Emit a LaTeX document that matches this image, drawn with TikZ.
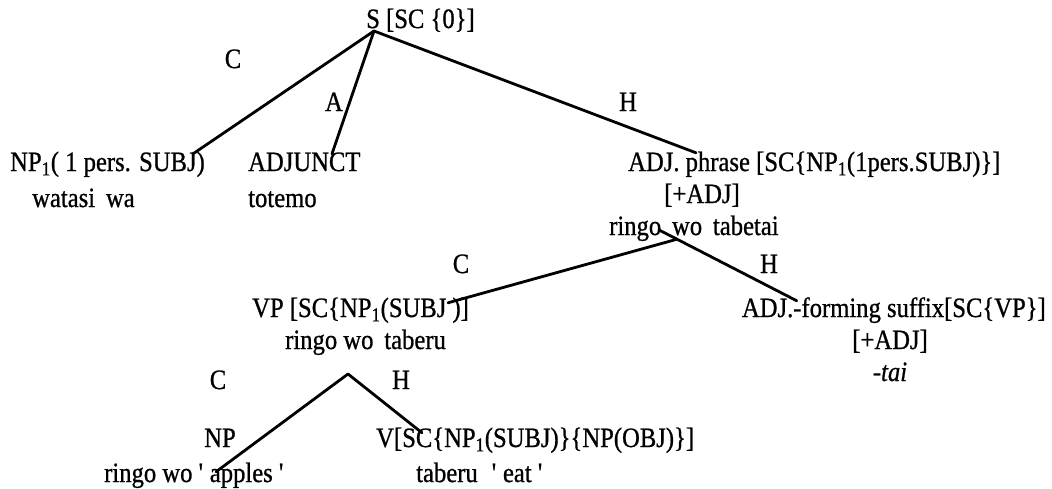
\documentclass[tikz,border=0pt]{standalone}
\usepackage{fontspec}
\setmainfont{Liberation Serif}[FakeStretch=0.88,FakeBold=0.8]
\usetikzlibrary{calc}
\begin{document}
\begin{tikzpicture}[x=1pt,y=-1pt,
  txt/.style={inner sep=0pt, text height=20pt, text depth=6pt, font=\fontsize{28}{33}\selectfont},
  edge/.style={line width=2.8pt, line cap=round}]
\useasboundingbox[fill=white] (0,0) rectangle (1052,488);

% level 0
\node[txt, anchor=west] (s) at (366,21) {S [SC \{0\}]};
\node[txt] (c1) at (233,61) {C};
\node[txt] (a1) at (334,104) {A};
\node[txt] (h1) at (628,104) {H};

% level 1
\node[txt, anchor=west] (np1) at (10,164) {NP\textsubscript{1}( 1 pers. SUBJ)};
\node[txt, anchor=west] (adjunct) at (248,164) {ADJUNCT};
\node[txt, anchor=west] (adjp) at (628,164) {ADJ. phrase [SC\{NP\textsubscript{1}(1pers.SUBJ)\}]};
\node[txt, anchor=west] (watasi) at (32,200) {watasi\, wa};
\node[txt, anchor=west] (totemo) at (248,200) {totemo};
\node[txt] (adj1) at (702,196) {[+ADJ]};
\node[txt, anchor=west] (tabetai) at (609,228) {ringo\, wo\, tabetai};

% level 2
\node[txt] (c2) at (461,266) {C};
\node[txt] (h2) at (769,266) {H};
\node[txt, anchor=west] (vp) at (252,310) {VP [SC\{NP\textsubscript{1}(SUBJ )]};
\node[txt, anchor=east] (suffix) at (1046,310) {ADJ.-forming suffix[SC\{VP\}]};
\node[txt, anchor=west] (taberu) at (285,342) {ringo wo\, taberu};
\node[txt] (adj2) at (890,342) {[+ADJ]};
\node[txt] (tai) at (890,374) {-\textit{tai}};

% level 3
\node[txt] (c3) at (218,382) {C};
\node[txt] (h3) at (401,382) {H};
\node[txt] (np) at (220,440) {NP};
\node[txt, anchor=west] (v) at (376,440) {V[SC\{NP\textsubscript{1}(SUBJ)\}\{NP(OBJ)\}]};
\node[txt, anchor=west] (apples) at (104,475) {ringo wo \textquotesingle\ apples \textquotesingle};
\node[txt, anchor=west] (eat) at (416,475) {taberu\enspace\textquotesingle\ eat \textquotesingle};

% connector points
\coordinate (sapex) at (374,31);
\coordinate (np1top) at ($(np1.north east)+(-12,3)$);
\coordinate (adjuncttop) at ($(adjunct.north west)+(84,3)$);
\coordinate (adjptop) at ($(adjp.north west)+(68,2)$);
\coordinate (apex2) at ($(tabetai.south west)+(68,-2)$);
\coordinate (vptop) at ($(vp.north west)+(196,6)$);
\coordinate (suffixtop) at ($(suffix.north west)+(55,4)$);
\coordinate (apex2up) at ($(apex2)!-20pt!(suffixtop)$);
\coordinate (apex3) at (348,374);
\coordinate (applestop) at ($(apples.north west)+(112,10)$);
\coordinate (vtop) at ($(v.north west)+(46,6)$);

\draw[edge] (sapex) -- (np1top);
\draw[edge] (sapex) -- (adjuncttop);
\draw[edge] (sapex) -- (adjptop);
\draw[edge] (apex2) -- (vptop);
\draw[edge] (apex2up) -- (suffixtop);
\draw[edge] (apex3) -- (applestop);
\draw[edge] (apex3) -- (vtop);
\end{tikzpicture}
\end{document}
